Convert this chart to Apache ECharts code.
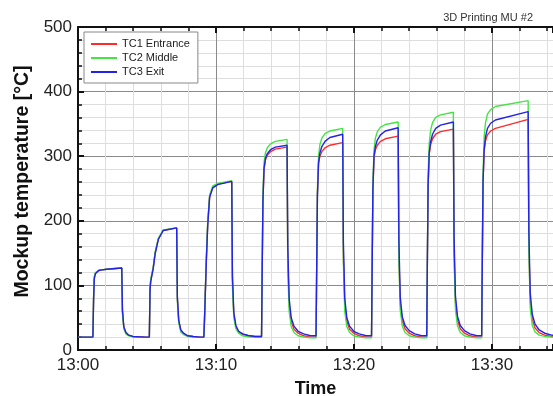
<!DOCTYPE html>
<html>
<head>
<meta charset="utf-8">
<script src="https://cdn.jsdelivr.net/npm/echarts@6/dist/echarts.min.js"></script>
<style>
  html, body { margin: 0; padding: 0; background: #fff; }
  #chart { width: 553px; height: 396px; }
</style>
</head>
<body>
<div id="chart"></div>
<script>
// minutes after 13:00, one line per heating cycle
const times = [
  0,
  1.08, 1.13, 1.18, 1.26, 1.36, 1.50, 1.73, 2.08, 3.17, 3.22, 3.32, 3.47, 3.67, 3.97, 4.37, 4.87,
  5.17, 5.22, 5.27, 5.35, 5.45, 5.59, 5.82, 6.17, 7.15, 7.20, 7.30, 7.45, 7.65, 7.95, 8.35, 8.85,
  9.12, 9.17, 9.22, 9.30, 9.40, 9.54, 9.77, 10.12, 11.14, 11.19, 11.29, 11.44, 11.64, 11.94, 12.34, 12.84,
  13.30, 13.35, 13.40, 13.48, 13.58, 13.72, 13.95, 14.30, 15.15, 15.20, 15.30, 15.45, 15.65, 15.95, 16.35, 16.85,
  17.25, 17.30, 17.35, 17.43, 17.53, 17.67, 17.90, 18.25, 19.18, 19.23, 19.33, 19.48, 19.68, 19.98, 20.38, 20.88,
  21.27, 21.32, 21.37, 21.45, 21.55, 21.69, 21.92, 22.27, 23.20, 23.25, 23.35, 23.50, 23.70, 24.00, 24.40, 24.90,
  25.27, 25.32, 25.37, 25.45, 25.55, 25.69, 25.92, 26.27, 27.20, 27.25, 27.35, 27.50, 27.70, 28.00, 28.40, 28.90,
  29.25, 29.30, 29.35, 29.43, 29.53, 29.67, 29.90, 30.25, 32.62, 32.67, 32.77, 32.92, 33.12, 33.42, 33.82, 34.32,
  35
];

const tc1Entrance = [
  20,
  20, 80, 112, 119, 121, 123, 124, 125, 127, 60, 35, 27, 23, 21, 20.5, 20,
  20, 95, 108, 116, 127, 150, 172, 185, 189, 80, 45, 30, 25, 22, 21, 20,
  20, 50, 85, 140, 195, 238, 252, 257, 261, 110, 55, 36, 28, 24, 22, 21,
  21, 130, 230, 280, 294, 302, 307, 311, 314, 140, 70, 44, 32, 26, 22, 20,
  20, 135, 240, 288, 300, 307, 313, 317, 321, 145, 70, 44, 32, 26, 22, 20,
  20, 140, 250, 298, 310, 317, 323, 327, 331, 149, 72, 45, 33, 26, 22, 20,
  20, 145, 255, 303, 318, 327, 334, 338, 342, 154, 74, 46, 33, 26, 22, 20,
  20, 145, 260, 308, 324, 333, 339, 343, 357, 160, 76, 47, 34, 27, 23, 21,
  20.5
];

const tc2Middle = [
  20,
  20, 82, 114, 120, 122, 123, 124, 125, 127, 58, 33, 25, 22, 20.5, 20, 19.5,
  19.5, 97, 110, 118, 128, 152, 173, 186, 189, 75, 42, 28, 24, 21, 20, 19.5,
  19.5, 52, 88, 143, 198, 240, 254, 258, 262, 100, 50, 33, 26, 22, 20.5, 19.5,
  19.5, 135, 240, 290, 305, 313, 319, 323, 326, 130, 60, 36, 27, 22, 20, 19,
  19, 140, 250, 300, 318, 328, 335, 339, 343, 137, 60, 36, 27, 22, 20, 19,
  19, 145, 260, 310, 328, 338, 345, 349, 353, 141, 62, 37, 27, 22, 20, 19,
  19, 150, 270, 320, 340, 352, 360, 364, 368, 147, 63, 37, 27, 22, 20, 19,
  19, 150, 270, 330, 352, 365, 372, 377, 386, 154, 65, 38, 28, 23, 21, 20,
  19.5
];

const tc3Exit = [
  20,
  20, 78, 110, 118, 121, 123, 124, 125, 127, 62, 36, 27, 23, 21, 20.5, 20,
  20, 93, 106, 115, 126, 149, 171, 185, 189, 82, 46, 31, 26, 22, 21, 20,
  20, 48, 83, 138, 193, 237, 251, 256, 261, 115, 58, 38, 29, 25, 22.5, 21,
  21, 130, 230, 281, 296, 304, 310, 314, 317, 160, 80, 50, 37, 29, 25, 22,
  22, 135, 240, 290, 305, 315, 323, 329, 334, 167, 80, 50, 37, 29, 25, 22,
  22, 140, 250, 300, 315, 325, 333, 339, 344, 172, 82, 51, 38, 30, 25, 22,
  22, 145, 255, 305, 322, 334, 343, 348, 353, 176, 84, 52, 38, 30, 25, 22,
  22, 145, 260, 310, 330, 343, 351, 356, 369, 185, 88, 55, 40, 31, 26, 23,
  22
];

const seriesNames = ['TC1 Entrance', 'TC2 Middle', 'TC3 Exit'];
const seriesColors = ['#ff2a2a', '#44e444', '#2323e6'];
const xMinutes = [0, 10, 20, 30];

const FONT = '"Liberation Sans", Arial, sans-serif';

function pairs(values) {
  return times.map((t, i) => [t, values[i]]);
}

function clockLabel(v) {
  return '13:' + String(Math.round(v)).padStart(2, '0');
}

const chart = echarts.init(document.getElementById('chart'));

const frameAxis = {
  min: 0,
  max: 34.42,
  interval: 10,
  axisLine: { show: true, onZero: false, lineStyle: { color: '#111', width: 2 } },
  axisTick: { show: true, inside: true, length: 6, lineStyle: { color: '#111', width: 2 } },
  minorTick: { show: true, splitNumber: 5, length: 4, lineStyle: { color: '#111', width: 1.5 } }
};

chart.setOption({
  animation: false,
  textStyle: { fontFamily: FONT },
  title: {
    text: '3D Printing MU #2',
    right: 15,
    top: 7,
    textStyle: { fontFamily: FONT, fontSize: 11, fontWeight: 'normal', color: '#333' }
  },
  legend: {
    orient: 'vertical',
    left: 84,
    top: 32,
    padding: [6, 8, 5, 7],
    itemGap: 2,
    itemWidth: 26,
    itemHeight: 2,
    icon: 'rect',
    backgroundColor: '#fff',
    borderColor: '#888',
    borderWidth: 1,
    borderRadius: 0,
    textStyle: { fontFamily: FONT, fontSize: 11, color: '#222', lineHeight: 12 },
    data: seriesNames
  },
  grid: { left: 78, top: 27, right: 0, bottom: 46, outerBoundsMode: 'none', containLabel: false },
  xAxis: [
    Object.assign({}, frameAxis, {
      type: 'value',
      position: 'bottom',
      name: 'Time',
      nameLocation: 'middle',
      nameGap: 30,
      nameTextStyle: { fontFamily: FONT, fontSize: 18, fontWeight: 'bold', color: '#111' },
      axisLabel: {
        fontFamily: FONT, fontSize: 17, color: '#222', margin: 7,
        showMaxLabel: false,
        formatter: v => xMinutes.includes(Math.round(v)) ? clockLabel(v) : ''
      },
      splitLine: { show: true, lineStyle: { color: '#8a8a8a', width: 1 } },
      minorSplitLine: { show: true, lineStyle: { color: '#dedede', width: 1 } }
    }),
    Object.assign({}, frameAxis, {
      type: 'value',
      position: 'top',
      axisLabel: { show: false },
      splitLine: { show: false }
    })
  ],
  yAxis: {
    type: 'value',
    min: 0,
    max: 500,
    interval: 100,
    name: 'Mockup temperature [°C]',
    nameLocation: 'middle',
    nameGap: 44,
    nameTextStyle: { fontFamily: FONT, fontSize: 19.5, fontWeight: 'bold', color: '#111', padding: [0, 0, 0, 14] },
    axisLine: { show: true, lineStyle: { color: '#111', width: 2 } },
    axisTick: { show: true, inside: true, length: 6, lineStyle: { color: '#111', width: 2 } },
    minorTick: { show: true, splitNumber: 5, length: 4, lineStyle: { color: '#111', width: 1.5 } },
    axisLabel: { fontFamily: FONT, fontSize: 17, color: '#222', margin: 6 },
    splitLine: { show: true, lineStyle: { color: '#8a8a8a', width: 1 } },
    minorSplitLine: { show: true, lineStyle: { color: '#dedede', width: 1 } }
  },
  series: [tc1Entrance, tc2Middle, tc3Exit].map((vals, i) => ({
    name: seriesNames[i],
    type: 'line',
    xAxisIndex: 0,
    data: pairs(vals),
    showSymbol: false,
    symbol: 'none',
    color: seriesColors[i],
    lineStyle: { color: seriesColors[i], width: 1.4 },
    z: 3 + i
  }))
});
</script>
</body>
</html>
